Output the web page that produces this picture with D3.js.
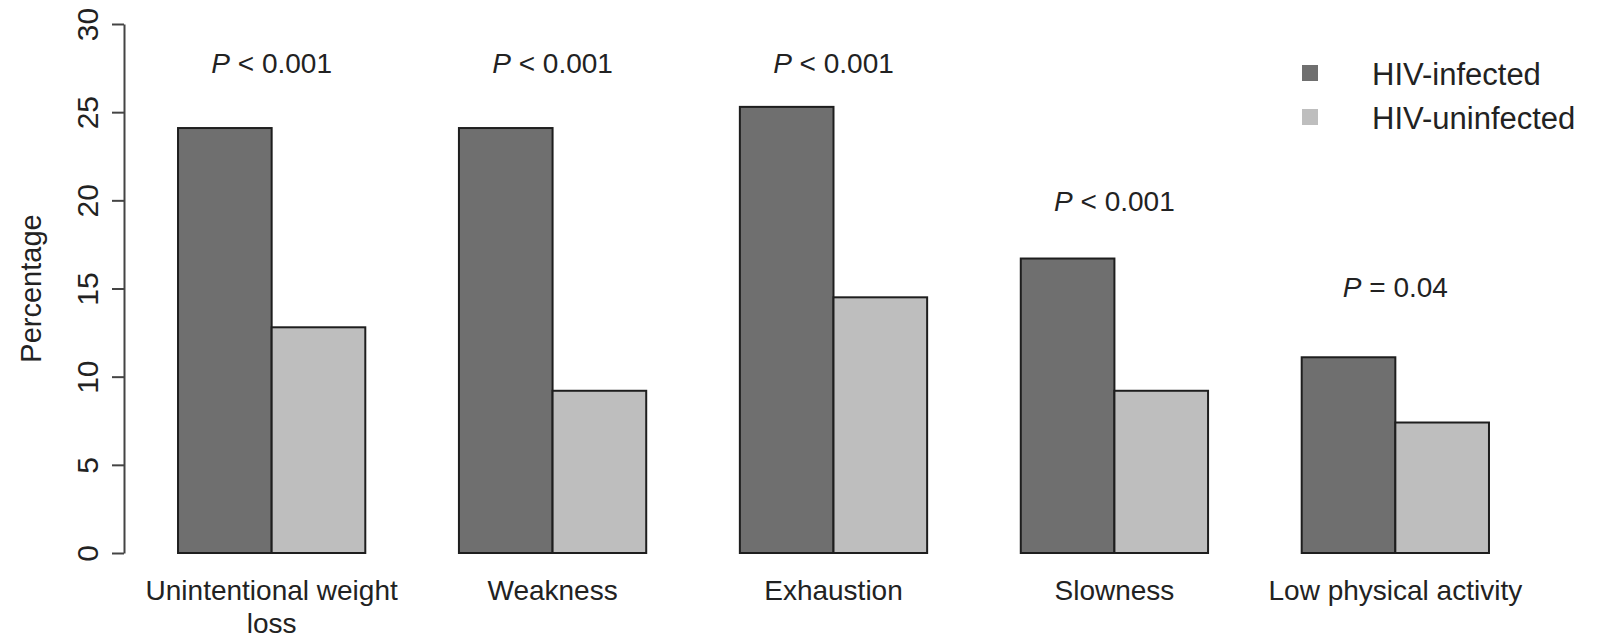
<!DOCTYPE html>
<html>
<head>
<meta charset="utf-8">
<script src="https://cdn.jsdelivr.net/npm/d3@7"></script>
<style>
  html, body { margin: 0; padding: 0; background: #fff; }
  svg { display: block; font-family: "Liberation Sans", Arial, Helvetica, sans-serif; }
</style>
</head>
<body>
<svg id="chart" width="1602" height="638"></svg>
<script>
// ---- data ----
const categories = ["Unintentional weight\nloss", "Weakness", "Exhaustion", "Slowness", "Low physical activity"];
const seriesNames = ["HIV-infected", "HIV-uninfected"];
const hivInfected = [24.1, 24.1, 25.3, 16.7, 11.1];
const hivUninfected = [12.8, 9.2, 14.5, 9.2, 7.4];
const pLabels = [["P", "< 0.001"], ["P", "< 0.001"], ["P", "< 0.001"], ["P", "< 0.001"], ["P", "= 0.04"]];
const pLabelY = [27.2, 27.2, 27.2, 19.4, 14.5];
const yTicks = [0, 5, 10, 15, 20, 25, 30];
const colors = ["#6f6f6f", "#bebebe"];

const svg = d3.select("#chart");

const y = d3.scaleLinear().domain([0, 30]).range([553, 24]);
const x0 = d3.scaleBand().domain(categories).range([131.2, 1535.8])
  .paddingInner(1/3).paddingOuter(1/6);
const x1 = d3.scaleBand().domain(seriesNames).range([0, x0.bandwidth()]).padding(0);

const rows = categories.map((c, i) => ({ cat: c, vals: [hivInfected[i], hivUninfected[i]] }));

// bars
const groups = svg.append("g").selectAll("g").data(rows).join("g")
  .attr("transform", d => `translate(${x0(d.cat)},0)`);
groups.selectAll("rect").data(d => d.vals.map((v, k) => ({ v, k })))
  .join("rect")
  .attr("x", d => x1(seriesNames[d.k]))
  .attr("width", x1.bandwidth())
  .attr("y", d => y(d.v))
  .attr("height", d => y(0) - y(d.v))
  .attr("fill", d => colors[d.k])
  .attr("stroke", "#1e1e1e")
  .attr("stroke-width", 2);

// y axis
const axis = svg.append("g").attr("transform", "translate(124,0)")
  .call(d3.axisLeft(y).tickValues(yTicks).tickSize(12).tickSizeOuter(0).tickFormat(d3.format("d")));
axis.select(".domain").attr("stroke", "#444").attr("stroke-width", 2);
axis.selectAll(".tick line").attr("stroke", "#444").attr("stroke-width", 2);
axis.selectAll(".tick text")
  .attr("x", null).attr("dy", null)
  .attr("transform", "translate(-26,0) rotate(-90)")
  .attr("text-anchor", "middle")
  .attr("font-size", 30)
  .attr("fill", "#222")
  .attr("font-family", "Liberation Sans, Arial, sans-serif");

svg.append("text")
  .attr("transform", `translate(41,${(y(0) + y(30)) / 2}) rotate(-90)`)
  .attr("text-anchor", "middle")
  .attr("font-size", 29)
  .attr("fill", "#222")
  .text("Percentage");

// x labels
rows.forEach(d => {
  const cx = x0(d.cat) + x0.bandwidth() / 2;
  const lines = d.cat.split("\n");
  const t = svg.append("text")
    .attr("text-anchor", "middle")
    .attr("font-size", 28)
    .attr("fill", "#222");
  lines.forEach((ln, j) => {
    t.append("tspan").attr("x", cx).attr("y", 600 + j * 33).text(ln);
  });
});

// p-value labels
rows.forEach((d, i) => {
  const cx = x0(d.cat) + x0.bandwidth() / 2;
  const t = svg.append("text")
    .attr("x", cx).attr("y", y(pLabelY[i]))
    .attr("text-anchor", "middle")
    .attr("font-size", 28)
    .attr("fill", "#222");
  t.append("tspan").attr("font-style", "italic").text(pLabels[i][0]);
  t.append("tspan").text(" " + pLabels[i][1]);
});

// legend
const legend = svg.append("g").attr("transform", "translate(1302,65)");
seriesNames.forEach((s, k) => {
  legend.append("rect")
    .attr("x", 0).attr("y", k * 44)
    .attr("width", 16).attr("height", 16)
    .attr("fill", colors[k]);
  legend.append("text")
    .attr("x", 70).attr("y", k * 44 + 20)
    .attr("font-size", 31)
    .attr("fill", "#222")
    .text(s);
});
</script>
</body>
</html>
